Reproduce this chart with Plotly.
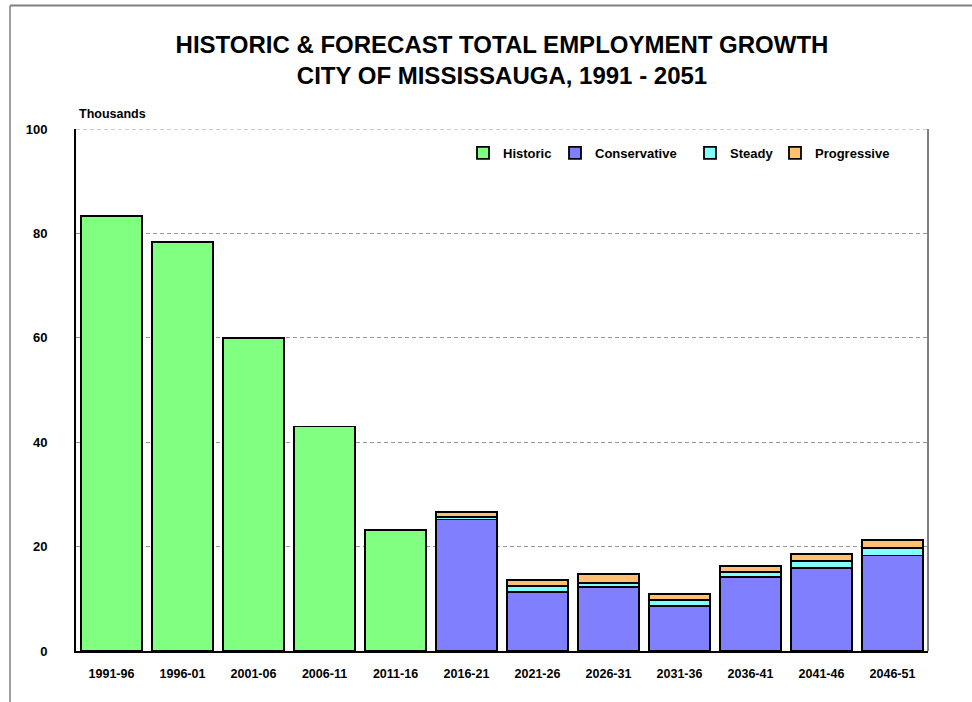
import plotly.graph_objects as go

# Five-year periods on the category axis
periods = ["1991-96", "1996-01", "2001-06", "2006-11", "2011-16", "2016-21",
           "2021-26", "2026-31", "2031-36", "2036-41", "2041-46", "2046-51"]

# Employment growth per period, thousands of jobs
historic = [83.4, 78.3, 60.0, 43.0, 23.2, None, None, None, None, None, None, None]
conservative = [None, None, None, None, None, 25.2, 11.3, 12.2, 8.6, 14.2, 15.9, 18.3]
steady = [None, None, None, None, None, 0.45, 1.15, 0.9, 1.1, 0.95, 1.4, 1.4]
progressive = [None, None, None, None, None, 1.0, 1.1, 1.7, 1.2, 1.2, 1.3, 1.5]

y_ticks = [0, 20, 40, 60, 80, 100]

FONT = "Liberation Sans, Arial, sans-serif"
outline = dict(color="black", width=1.8)

series = [
    ("Historic", historic, "#80FF80", "legend"),
    ("Conservative", conservative, "#8080FF", "legend2"),
    ("Steady", steady, "#80FFFF", "legend3"),
    ("Progressive", progressive, "#FFC170", "legend4"),
]

fig = go.Figure()
for name, vals, color, leg in series:
    fig.add_trace(go.Bar(
        x=periods, y=vals, name=name, legend=leg,
        marker=dict(color=color, line=outline),
    ))

W, H = 972, 702
L, R, T, B = 76, 44, 129, 51
plot_w, plot_h = W - L - R, H - T - B


def px_x(px):
    return (px - L) / plot_w


def px_y(py):
    return (H - B - py) / plot_h


legend_style = dict(
    orientation="h", xanchor="left", yanchor="middle",
    font=dict(family=FONT, size=13, color="black", weight="bold"),
    bgcolor="rgba(0,0,0,0)", borderwidth=0, itemwidth=30,
)
legend_pos = {"legend": 463, "legend2": 555, "legend3": 690, "legend4": 775}
legends = {k: dict(legend_style, x=px_x(v), y=px_y(153)) for k, v in legend_pos.items()}

tick_font = dict(family=FONT, size=12.5, color="black", weight="bold")

fig.update_layout(
    width=W, height=H,
    margin=dict(l=L, r=R, t=T, b=B),
    paper_bgcolor="white", plot_bgcolor="white",
    barmode="stack", bargap=0.15,
    font=dict(family=FONT, color="black"),
    title=dict(
        text="HISTORIC & FORECAST TOTAL EMPLOYMENT GROWTH<br>CITY OF MISSISSAUGA, 1991 - 2051",
        x=0.5, xref="paper", xanchor="center",
        y=1 - 53 / H, yref="container", yanchor="middle",
        font=dict(family=FONT, size=24, color="black", weight="bold"),
    ),
    showlegend=True,
    **legends,
    xaxis=dict(
        type="category", showgrid=False,
        showline=True, linecolor="black", linewidth=2,
        ticks="", ticklabelstandoff=10,
        tickfont=tick_font,
    ),
    yaxis=dict(
        range=[0, 100], tickvals=y_ticks, ticktext=[str(v) for v in y_ticks],
        showgrid=True, gridcolor="#999999", griddash="4px,3px", gridwidth=1,
        zeroline=False, showline=True, linecolor="black", linewidth=2,
        ticks="", ticklabelstandoff=24,
        tickfont=dict(tick_font, size=13),
    ),
    annotations=[dict(
        text="Thousands", x=px_x(77), y=px_y(114), xref="paper", yref="paper",
        xanchor="left", yanchor="middle", showarrow=False,
        font=tick_font,
    )],
    shapes=[
        # dashed gridline along the top of the value axis
        dict(type="line", xref="paper", yref="y", x0=0, x1=1,
             y0=y_ticks[-1], y1=y_ticks[-1],
             line=dict(color="#999999", width=1, dash="4px,3px")),
        # right edge of the plotting area
        dict(type="line", xref="paper", yref="paper", x0=1, x1=1, y0=0, y1=1,
             line=dict(color="black", width=1)),
        # outer chart frame: top and left edges
        dict(type="line", xref="paper", yref="paper",
             x0=px_x(10), x1=px_x(972), y0=px_y(5.5), y1=px_y(5.5),
             line=dict(color="#808080", width=2)),
        dict(type="line", xref="paper", yref="paper",
             x0=px_x(10), x1=px_x(10), y0=px_y(5.5), y1=px_y(702),
             line=dict(color="#808080", width=1.5)),
    ],
)

fig.write_html("out.html")
